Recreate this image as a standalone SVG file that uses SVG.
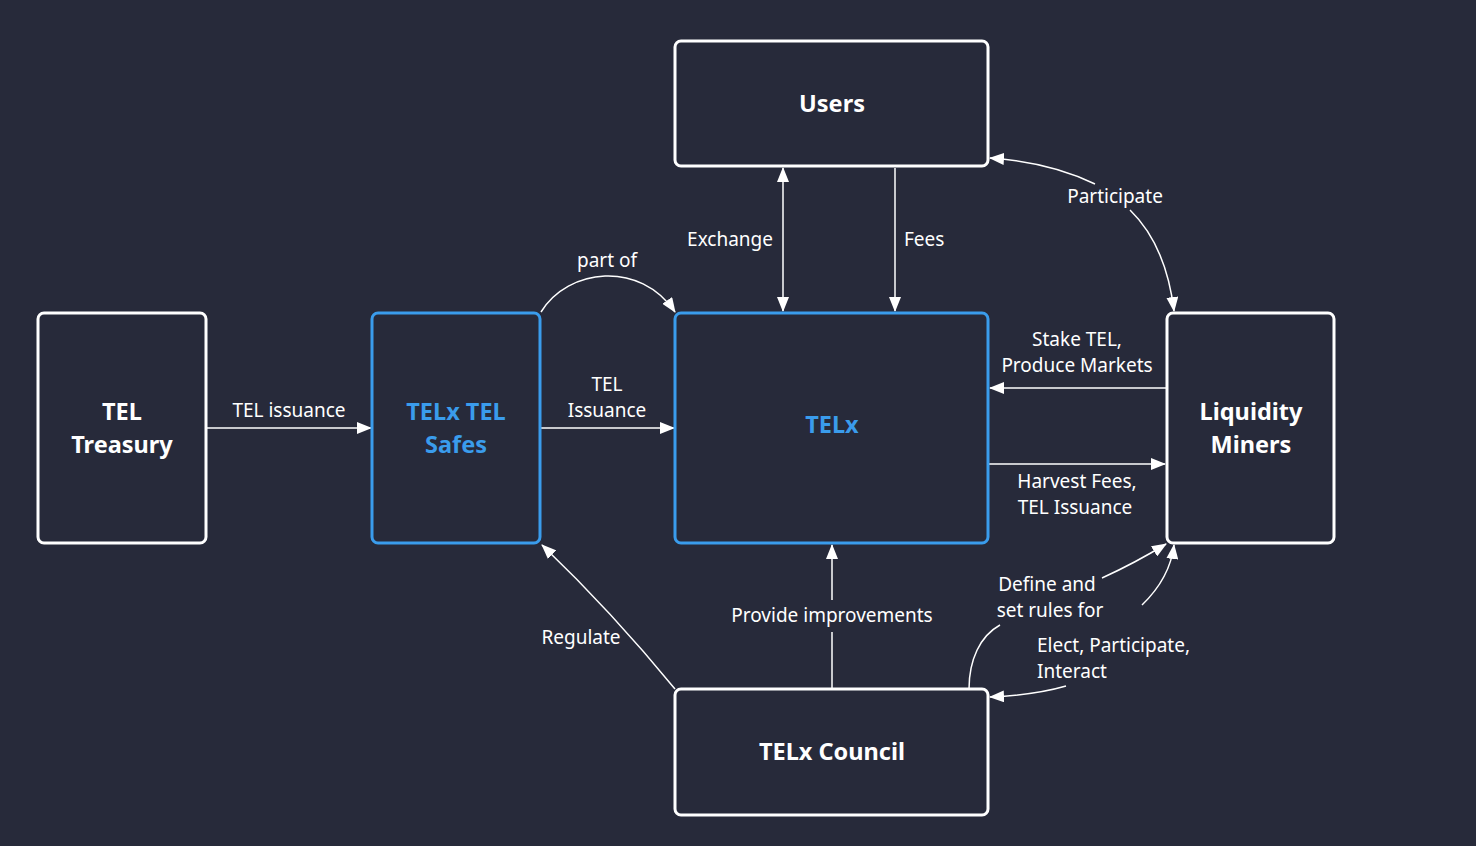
<svg xmlns="http://www.w3.org/2000/svg" width="1476" height="846" viewBox="0 0 1476 846">
<defs>
<marker id="ah" viewBox="0 0 15 12" refX="14" refY="6" markerWidth="15" markerHeight="12" markerUnits="userSpaceOnUse" orient="auto-start-reverse">
<path d="M0,0 L15,6 L0,12 Z" fill="#ffffff"/>
</marker>
<style>
.bg{fill:#272a3a}
.box{fill:#272a3a;stroke:#ffffff;stroke-width:3}
.bbox{fill:#272a3a;stroke:#3a9cec;stroke-width:3}
.t{font-family:"Noto Sans","Open Sans","DejaVu Sans",sans-serif;font-weight:700;font-size:23.5px;fill:#ffffff;text-anchor:middle}
.tb{fill:#3a9cec}
.c{fill:none;stroke:#ffffff;stroke-width:1.5}
.l{font-family:"Noto Sans","Open Sans","DejaVu Sans",sans-serif;font-size:19px;fill:#ffffff;text-anchor:middle}
</style>
</defs>
<rect class="bg" x="0" y="0" width="1476" height="846"/>

<g id="connectors">
<path class="c" d="M206,428 L371,428" marker-end="url(#ah)"/>
<text class="l" x="289" y="417">TEL issuance</text>

<path class="c" d="M541,428 L674,428" marker-end="url(#ah)"/>
<text class="l" x="607" y="391">TEL</text>
<text class="l" x="607" y="417">Issuance</text>

<path class="c" d="M541,312 C568,268 640,260 675,312" marker-end="url(#ah)"/>
<text class="l" x="607" y="267">part of</text>

<path class="c" d="M783,168 L783,311" marker-start="url(#ah)" marker-end="url(#ah)"/>
<text class="l" x="773" y="246" style="text-anchor:end">Exchange</text>

<path class="c" d="M895,168 L895,311" marker-end="url(#ah)"/>
<text class="l" x="904" y="246" style="text-anchor:start">Fees</text>

<path class="c" d="M1095,184 Q1050,162 990,158" marker-end="url(#ah)"/>
<path class="c" d="M1130,210 Q1166,245 1174,311" marker-end="url(#ah)"/>
<text class="l" x="1115" y="203">Participate</text>

<path class="c" d="M1167,388 L990,388" marker-end="url(#ah)"/>
<text class="l" x="1077" y="346">Stake TEL,</text>
<text class="l" x="1077" y="372">Produce Markets</text>

<path class="c" d="M988,464 L1165,464" marker-end="url(#ah)"/>
<text class="l" x="1077" y="488">Harvest Fees,</text>
<text class="l" x="1075" y="514">TEL Issuance</text>

<path class="c" d="M832,689 L832,632"/>
<path class="c" d="M832,600 L832,545" marker-end="url(#ah)"/>
<text class="l" x="832" y="622">Provide improvements</text>

<path class="c" d="M675,689 Q612,612 542,545" marker-end="url(#ah)"/>
<text class="l" x="581" y="644">Regulate</text>

<path class="c" d="M969,689 C969,660 980,636 1000,625"/>
<path class="c" d="M1102,578 Q1135,563 1166,544" marker-end="url(#ah)"/>
<text class="l" x="1047" y="591">Define and</text>
<text class="l" x="1050" y="617">set rules for</text>

<path class="c" d="M1142,605 Q1170,578 1174,545" marker-end="url(#ah)"/>
<path class="c" d="M1066,686 Q1035,695 990,697" marker-end="url(#ah)"/>
<text class="l" x="1037" y="652" style="text-anchor:start">Elect, Participate,</text>
<text class="l" x="1037" y="678" style="text-anchor:start">Interact</text>
</g>

<g id="tel-treasury">
<rect class="box" x="38" y="313" width="168" height="230" rx="6"/>
<text class="t" x="122" y="420">TEL</text>
<text class="t" x="122" y="453">Treasury</text>
</g>

<g id="telx-tel-safes">
<rect class="bbox" x="372" y="313" width="168" height="230" rx="6"/>
<text class="t tb" x="456" y="420">TELx TEL</text>
<text class="t tb" x="456" y="453">Safes</text>
</g>

<g id="telx">
<rect class="bbox" x="675" y="313" width="313" height="230" rx="6"/>
<text class="t tb" x="832" y="433">TELx</text>
</g>

<g id="users">
<rect class="box" x="675" y="41" width="313" height="125" rx="6"/>
<text class="t" x="832" y="112">Users</text>
</g>

<g id="liquidity-miners">
<rect class="box" x="1167" y="313" width="167" height="230" rx="6"/>
<text class="t" x="1251" y="420">Liquidity</text>
<text class="t" x="1251" y="453">Miners</text>
</g>

<g id="telx-council">
<rect class="box" x="675" y="689" width="313" height="126" rx="6"/>
<text class="t" x="832" y="760">TELx Council</text>
</g>
</svg>
